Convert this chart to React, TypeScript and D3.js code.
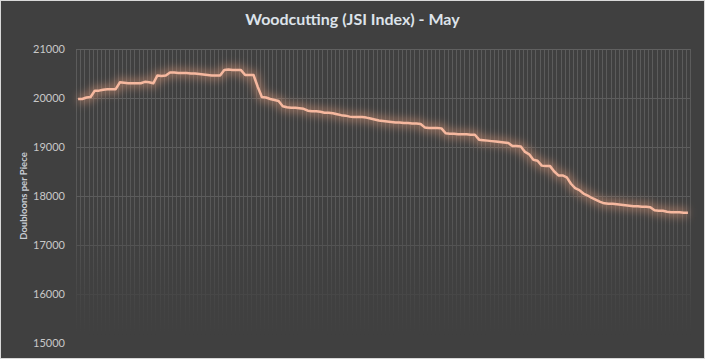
import React from "react";
import * as d3 from "d3";

const title = "Woodcutting (JSI Index) - May";
const yAxisTitle = "Doubloons  per Piece";
const yTicks = [15000, 16000, 17000, 18000, 19000, 20000, 21000];
const prices = [
  19980, 19980, 20010, 20020, 20150, 20150, 20170, 20180, 20180, 20180,
  20320, 20310, 20300, 20300, 20300, 20300, 20330, 20320, 20300, 20460,
  20450, 20460, 20520, 20520, 20510, 20510, 20510, 20500, 20500, 20490,
  20480, 20470, 20460, 20460, 20460, 20570, 20580, 20570, 20570, 20570,
  20470, 20470, 20470, 20230, 20020, 20010, 19980, 19960, 19940, 19830,
  19810, 19800, 19800, 19790, 19780, 19740, 19730, 19730, 19720, 19700,
  19700, 19690, 19670, 19650, 19640, 19620, 19610, 19610, 19610, 19600,
  19580, 19560, 19540, 19530, 19520, 19510, 19500, 19500, 19490, 19490,
  19480, 19480, 19470, 19400, 19390, 19390, 19390, 19380, 19280, 19270,
  19270, 19260, 19260, 19260, 19250, 19250, 19150, 19140, 19130, 19120,
  19110, 19100, 19090, 19080, 19020, 19020, 19010, 18900, 18850, 18740,
  18720, 18620, 18610, 18610, 18500, 18420, 18420, 18380, 18250, 18160,
  18120, 18050, 18010, 17960, 17920, 17880, 17850, 17840, 17840, 17830,
  17820, 17810, 17800, 17790, 17790, 17780, 17780, 17770, 17710, 17700,
  17700, 17680, 17670, 17670, 17670, 17660, 17660,
];
const points = prices.map((v, i) => ({ i, v }));

const W = 705;
const H = 359;
const plot = { left: 76, right: 690, top: 49, bottom: 343 };

export default function App() {
  const x = d3
    .scaleBand<number>()
    .domain(points.map((p) => p.i))
    .range([plot.left, plot.right]);
  const y = d3.scaleLinear().domain([15000, 21000]).range([plot.bottom, plot.top]);
  const line = d3
    .line<{ i: number; v: number }>()
    .x((p) => (x(p.i) as number) + x.bandwidth() / 2)
    .y((p) => y(p.v));
  const path = line(points) as string;
  const vLines = points.map((p) => x(p.i) as number).concat([plot.right]);

  return (
    <svg
      width={W}
      height={H}
      style={{ position: "absolute", left: 0, top: 0, display: "block" }}
    >
      <defs>
        <linearGradient id="fade" x1="0" y1="0" x2="0" y2="1" gradientUnits="objectBoundingBox">
          <stop offset="0" stopColor="white" stopOpacity={1} />
          <stop offset="0.55" stopColor="white" stopOpacity={0.85} />
          <stop offset="0.8" stopColor="white" stopOpacity={0.3} />
          <stop offset="0.97" stopColor="white" stopOpacity={0} />
        </linearGradient>
        <mask id="gridMask" maskUnits="userSpaceOnUse" x={0} y={plot.top - 2} width={W} height={plot.bottom - plot.top + 4}>
          <rect x={0} y={plot.top - 1} width={W} height={plot.bottom - plot.top + 2} fill="url(#fade)" />
        </mask>
        <filter id="glow" x="-10%" y="-30%" width="120%" height="160%">
          <feGaussianBlur stdDeviation="4" />
        </filter>
      </defs>
      <rect x={0.5} y={0.5} width={W - 1} height={H - 1} fill="#404040" stroke="#d9d9d9" />
      <text
        x={W / 2}
        y={25}
        textAnchor="middle"
        fontFamily="Lato, 'Open Sans', sans-serif"
        fontWeight="bold"
        fontSize={16}
        fill="#dde3ea"
      >
        {title}
      </text>
      <g mask="url(#gridMask)">
        {vLines.map((vx, k) => (
          <line
            key={"v" + k}
            x1={Math.round(vx) + 0.5}
            x2={Math.round(vx) + 0.5}
            y1={plot.top}
            y2={plot.bottom}
            stroke="#5c5c5c"
            strokeWidth={1}
          />
        ))}
        {yTicks.map((t) => (
          <line
            key={"h" + t}
            x1={plot.left}
            x2={plot.right}
            y1={Math.round(y(t)) + 0.5}
            y2={Math.round(y(t)) + 0.5}
            stroke="#606060"
            strokeWidth={1}
          />
        ))}
      </g>
      {yTicks.map((t) => (
        <text
          key={"t" + t}
          x={65}
          y={y(t) + 4}
          textAnchor="end"
          fontFamily="Lato, 'Open Sans', sans-serif"
          fontSize={11}
          fill="#c8c8c8"
        >
          {t}
        </text>
      ))}
      <text
        transform={`translate(27,${(plot.top + plot.bottom) / 2}) rotate(-90)`}
        textAnchor="middle"
        fontFamily="Lato, 'Open Sans', sans-serif"
        fontWeight="bold"
        fontSize={9.5}
        fill="#c8ccd2"
      >
        {yAxisTitle}
      </text>
      <path d={path} fill="none" stroke="#e49a78" strokeWidth={9} strokeOpacity={0.5} filter="url(#glow)" />
      <path d={path} fill="none" stroke="#f6b89f" strokeWidth={2.5} strokeLinejoin="round" />
    </svg>
  );
}
